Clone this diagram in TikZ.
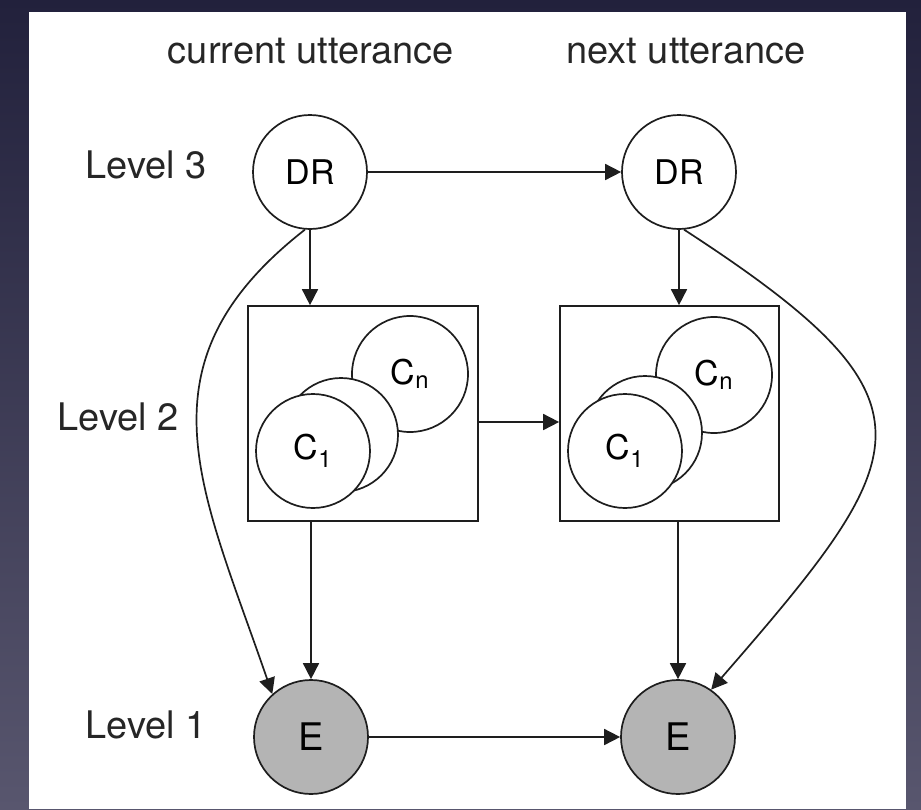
\documentclass[tikz,border=0pt]{standalone}
\usepackage{fontspec}
\setmainfont{TeX Gyre Heros}
\usetikzlibrary{arrows.meta}

\definecolor{bgtop}{RGB}{34,33,60}
\definecolor{bgbot}{RGB}{88,86,110}
\definecolor{ink}{RGB}{30,30,30}
\definecolor{efill}{RGB}{180,180,180}

\tikzset{
  var/.style={circle, draw=ink, line width=1.7pt, fill=white, minimum size=114pt,
    inner sep=0pt, font=\fontsize{34}{34}\selectfont},
  obs/.style={var, fill=efill, font=\fontsize{38}{38}\selectfont},
  plate/.style={rectangle, draw=ink, line width=1.7pt, inner sep=0pt},
  lbl/.style={anchor=base, font=\fontsize{38}{38}\selectfont, text=black!85},
  edge/.style={draw=ink, line width=1.7pt, -{Triangle[length=16pt,width=16pt]}}
}

\begin{document}
\begin{tikzpicture}[x=1pt, y=-1pt]

    % slide
    \shade[top color=bgtop, bottom color=bgbot] (0,0) rectangle (921,809);
    \fill[white] (29,12) rectangle (906,809);
    \useasboundingbox (0,0) rectangle (921,809);

    % column and row labels
    \node[lbl] (cur) at (311,63) {current utterance};
    \node[lbl] (nxt) at (686,63) {next utterance};
    \node[lbl] (lv3) at (146,178) {Level 3};
    \node[lbl] (lv2) at (118,430) {Level 2};
    \node[lbl] (lv1) at (146,738) {Level 1};

    % Level 3
    \node[var] (dr1) at (310,172) {DR};
    \node[var] (dr2) at (679,172) {DR};

    % Level 2
    \node[plate, minimum width=230pt, minimum height=215pt] (box1) at (363,413.5) {};
    \node[plate, minimum width=219pt, minimum height=215pt] (box2) at (669.5,413.5) {};

    \node[var, minimum size=116pt] (cn1) at (410,374) {C\textsubscript{n}};
    \node[var] (cm1) at (341,435) {};
    \node[var] (ca1) at (313,451) {C\textsubscript{1}};

    \node[var, minimum size=116pt] (cn2) at (714,375) {C\textsubscript{n}};
    \node[var] (cm2) at (645,433) {};
    \node[var] (ca2) at (625,451) {C\textsubscript{1}};

    % Level 1
    \node[obs] (e1) at (311,737) {E};
    \node[obs] (e2) at (678,737) {E};

    % links
    \coordinate (mid) at (0,422);
    \draw[edge] (dr1) -- (dr2);
    \draw[edge] (dr1.south) -- (dr1.south |- box1.north);
    \draw[edge] (dr2.south) -- (dr2.south |- box2.north);
    \draw[edge] (box1.east |- mid) -- (box2.west |- mid);
    \draw[edge] (e1.north |- box1.south) -- (e1.north);
    \draw[edge] (e2.north |- box2.south) -- (e2.north);
    \draw[edge] (e1) -- (e2);
    \draw[edge] (dr1.265) to[out=218, in=109, looseness=1.2] (e1.132);
    \draw[edge] (dr2.275) to[out=-33, in=49, looseness=1.75] (e2.55);

\end{tikzpicture}
\end{document}
